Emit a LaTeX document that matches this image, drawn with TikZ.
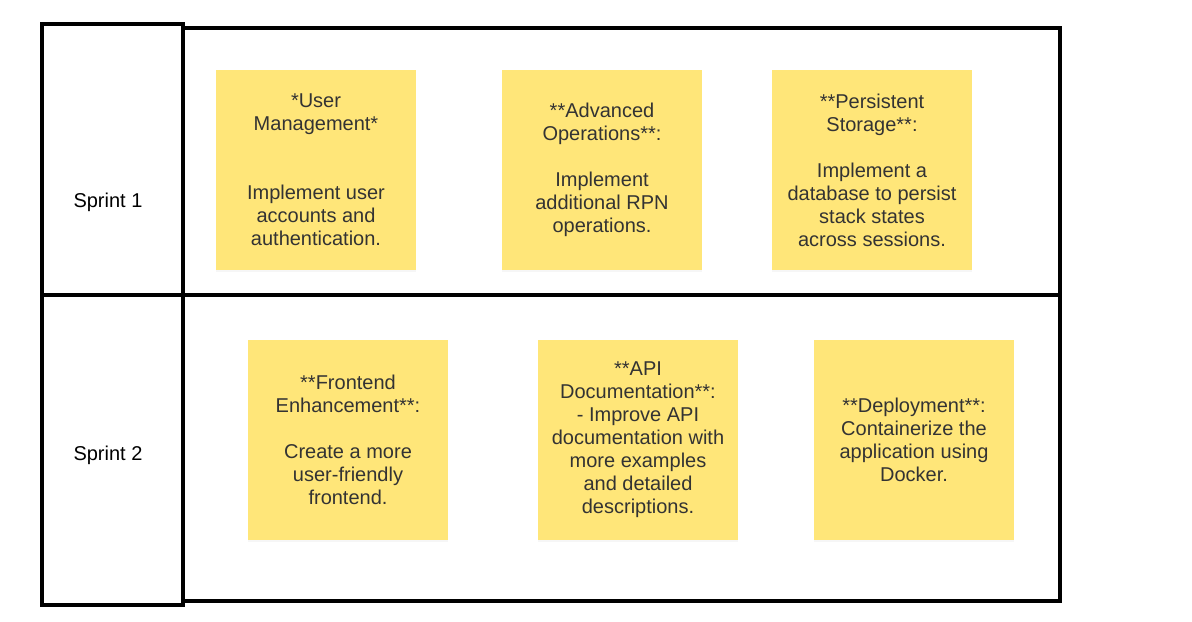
\documentclass[tikz,border=0pt]{standalone}
\usepackage{fontspec}
\setmainfont{Liberation Sans}
\usetikzlibrary{shadows,positioning}
\definecolor{stickyyellow}{HTML}{FFE679}
\definecolor{stickytext}{HTML}{333333}
\tikzset{
  lane/.style={draw=black, line width=2pt},
  sprintlabel/.style={font=\fontsize{10}{11.5}\selectfont, text=black},
  sticky/.style={fill=stickyyellow, minimum width=100pt, minimum height=100pt,
    inner sep=0pt, align=center, text=stickytext,
    font=\fontsize{10}{11.5}\selectfont,
    drop shadow={shadow xshift=0pt, shadow yshift=-1pt, opacity=0.07}}
}

\begin{document}
\begin{tikzpicture}[x=0.5pt, y=-0.5pt]
    \useasboundingbox (0,0) rectangle (1192,621);

    % Sprint column
    \draw[lane] (42,24) rectangle (183,295);
    \draw[lane] (42,295) rectangle (183,605);
    \node[sprintlabel] (sprint1) at (108,202) {Sprint 1};
    \node[sprintlabel] (sprint2) at (108,455) {Sprint 2};

    % Swimlanes
    \draw[lane] (183,28) rectangle (1060,295);
    \draw[lane] (183,295) rectangle (1060,601);

    % Sprint 1 notes
    \node[sticky] (usermgmt) at (316,170) {*User\\Management*\\[2\baselineskip]Implement user\\accounts and\\authentication.};
    \node[sticky] (advops) at (602,170) {**Advanced\\Operations**:\\[\baselineskip]Implement\\additional RPN\\operations.};
    \node[sticky] (storage) at (872,170) {**Persistent\\Storage**:\\[\baselineskip]Implement a\\database to persist\\stack states\\across sessions.};

    % Sprint 2 notes
    \node[sticky] (frontend) at (348,440) {**Frontend\\Enhancement**:\\[\baselineskip]Create a more\\user-friendly\\frontend.};
    \node[sticky] (apidoc) at (638,440) {**API\\Documentation**:\\- Improve API\\documentation with\\more examples\\and detailed\\descriptions.};
    \node[sticky] (deploy) at (914,440) {**Deployment**:\\Containerize the\\application using\\Docker.};
\end{tikzpicture}
\end{document}
